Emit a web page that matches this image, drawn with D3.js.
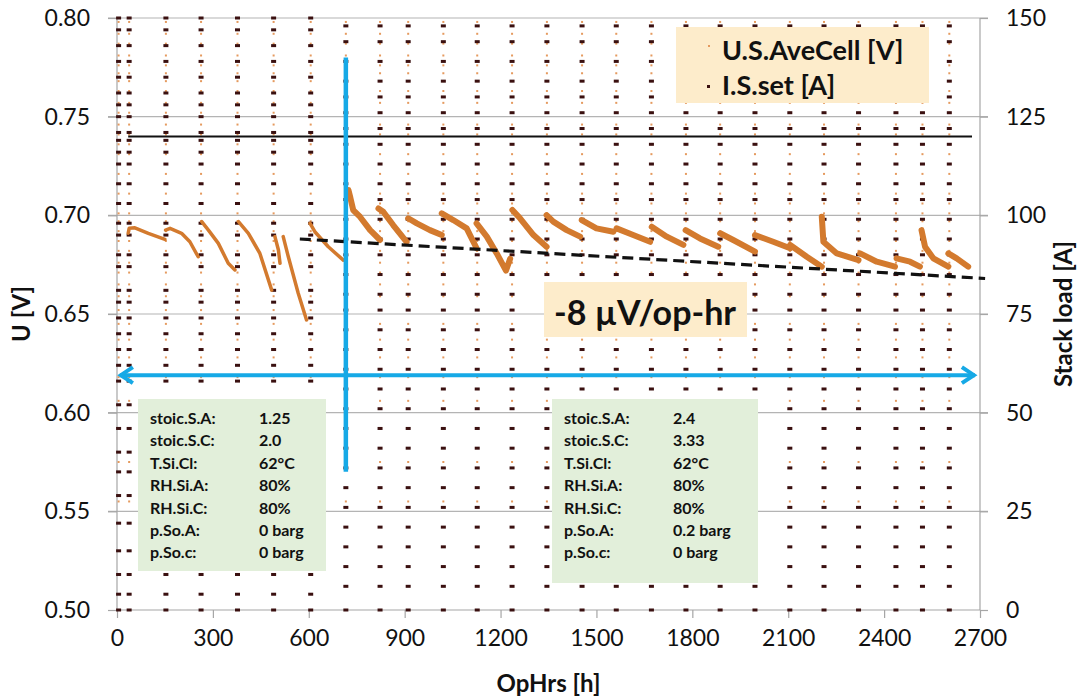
<!DOCTYPE html>
<html>
<head>
<meta charset="utf-8">
<script src="https://cdn.jsdelivr.net/npm/d3@7"></script>
<style>
  body { margin: 0; background: #fff; }
  svg text { font-family: Lato, 'Open Sans', sans-serif; fill: #111; }
</style>
</head>
<body>
<svg id="chart"></svg>
<script>
// ---- data ----
// OpHrs where a polarisation sweep was run
const sweepHours = [5, 38, 153, 263, 377, 490, 606, 716, 823, 911, 1021, 1127, 1236, 1345,
  1455, 1562, 1672, 1780, 1887, 1996, 2105, 2212, 2320, 2437, 2520, 2604];
// current steps (A) of a sweep, before / after the change of operating point
const polCurrentA = [150, 147, 143, 139, 135, 131, 128, 125, 121, 119, 116, 113, 108, 103, 98, 95,
  90, 87, 81, 78, 74, 70, 66, 62, 58, 52, 46, 40, 35, 29, 22, 15, 9, 4, 0];
const polCurrentB = [148, 144, 139, 134, 130, 126, 122, 118, 113, 108, 104, 99, 94, 90, 85,
  80, 76, 71, 66, 61, 56, 51, 46, 41, 36, 31, 26, 21, 16, 11, 6, 0];
// cell voltages (V) recorded during a sweep
const polVoltage = [0.798, 0.792, 0.787, 0.781, 0.776, 0.772, 0.768, 0.763, 0.757, 0.752, 0.746,
  0.741, 0.736, 0.731, 0.726, 0.721, 0.716, 0.711, 0.706, 0.701, 0.697, 0.692, 0.687, 0.682,
  0.676, 0.671, 0.665, 0.659, 0.652, 0.645, 0.637, 0.628, 0.618, 0.606, 0.592, 0.575, 0.555];
// U.S.AveCell at constant load, one list of [OpHrs, V] per run
const decaySegments = [
  [[35, 0.6909], [38, 0.6934], [56, 0.6937], [98, 0.6909], [150, 0.6878]],
  [[152, 0.6925], [166, 0.6934], [202, 0.6909], [228, 0.6866], [254, 0.679]],
  [[265, 0.6968], [286, 0.6925], [317, 0.6858], [348, 0.6757], [369, 0.6723]],
  [[380, 0.6968], [411, 0.6909], [447, 0.6807], [484, 0.6621]],
  [[494, 0.6892], [505, 0.6824], [510, 0.6757]],
  [[520, 0.6892], [536, 0.679], [567, 0.6605], [593, 0.647]],
  [[604, 0.6959], [619, 0.6917], [661, 0.6841], [708, 0.6773]],
  [[724, 0.7128], [730, 0.709], [739, 0.7027], [760, 0.6993], [792, 0.6925], [823, 0.6875]],
  [[818, 0.7035], [833, 0.7018], [864, 0.6951], [906, 0.6866]],
  [[911, 0.6985], [938, 0.6959], [979, 0.6925], [1016, 0.690]],
  [[1016, 0.701], [1052, 0.6976], [1094, 0.6934], [1125, 0.6833]],
  [[1125, 0.6959], [1157, 0.6892], [1188, 0.6807], [1217, 0.672], [1230, 0.678]],
  [[1237, 0.7027], [1261, 0.6985], [1303, 0.690], [1344, 0.6841]],
  [[1344, 0.7001], [1365, 0.6968], [1407, 0.6925], [1449, 0.6892]],
  [[1454, 0.6976], [1500, 0.6934], [1553, 0.6917]],
  [[1563, 0.6934], [1615, 0.690], [1668, 0.6866]],
  [[1673, 0.6942], [1720, 0.6892], [1772, 0.685]],
  [[1779, 0.6925], [1824, 0.6883], [1881, 0.6841]],
  [[1887, 0.6909], [1928, 0.6875], [1996, 0.6816]],
  [[1996, 0.690], [2053, 0.6866], [2106, 0.6833]],
  [[2106, 0.685], [2158, 0.679], [2205, 0.674]],
  [[2205, 0.6993], [2210, 0.6866], [2252, 0.6807], [2320, 0.6773]],
  [[2325, 0.6807], [2377, 0.6765], [2434, 0.674]],
  [[2439, 0.6782], [2481, 0.6765], [2512, 0.674]],
  [[2517, 0.6925], [2528, 0.6841], [2554, 0.6782], [2601, 0.674]],
  [[2601, 0.6807], [2627, 0.6782], [2663, 0.674]]
];
// I.S.set during the durability runs
const setCurrent = [[35, 120], [2675, 120]];
// annotations
const trendLine = [[572, 0.688], [2716, 0.668]];
const phaseDivider = [[716, 0.780], [716, 0.570]];
const phaseArrow = [[9, 0.619], [2684, 0.619]];
const dividerHour = 716;

const xTicks = [0, 300, 600, 900, 1200, 1500, 1800, 2100, 2400, 2700];
const uTicks = [0.50, 0.55, 0.60, 0.65, 0.70, 0.75, 0.80];
const iTicks = [0, 25, 50, 75, 100, 125, 150];
const legendItems = ['U.S.AveCell [V]', 'I.S.set [A]'];
const slopeLabel = '-8 \u00b5V/op-hr';
const condLabels = ['stoic.S.A:', 'stoic.S.C:', 'T.Si.Cl:', 'RH.Si.A:', 'RH.Si.C:', 'p.So.A:', 'p.So.c:'];
const condPhase1 = ['1.25', '2.0', '62\u00b0C', '80%', '80%', '0 barg', '0 barg'];
const condPhase2 = ['2.4', '3.33', '62\u00b0C', '80%', '80%', '0.2 barg', '0 barg'];

class DurabilityChart {
  constructor(_config) {
    this.config = {
      parentElement: _config.parentElement,
      containerWidth: 1083,
      containerHeight: 697,
      margin: { top: 18, bottom: 87, right: 103, left: 117 }
    };
    this.initVis();
  }

  initVis() {
    let vis = this;
    const m = vis.config.margin;
    vis.width = vis.config.containerWidth - m.left - m.right;
    vis.height = vis.config.containerHeight - m.top - m.bottom;

    vis.svg = d3.select(vis.config.parentElement)
      .attr('width', vis.config.containerWidth)
      .attr('height', vis.config.containerHeight);
    vis.svg.append('rect').attr('width', vis.config.containerWidth)
      .attr('height', vis.config.containerHeight).attr('fill', '#fff');

    vis.chart = vis.svg.append('g').attr('transform', `translate(${m.left},${m.top})`);

    vis.x = d3.scaleLinear().domain([0, 2700]).range([0, vis.width]);
    vis.yU = d3.scaleLinear().domain([0.5, 0.8]).range([vis.height, 0]);
    vis.yI = d3.scaleLinear().domain([0, 150]).range([vis.height, 0]);

    // gridlines
    vis.chart.append('g').selectAll('line').data(uTicks.slice(1)).join('line')
      .attr('x1', -9).attr('x2', vis.width + 8)
      .attr('y1', d => vis.yU(d)).attr('y2', d => vis.yU(d))
      .attr('stroke', '#b4b4b4').attr('stroke-width', 1.2);

    // axes
    const xAxis = vis.chart.append('g').attr('transform', `translate(0,${vis.height})`)
      .call(d3.axisBottom(vis.x).tickValues(xTicks).tickSize(8).tickPadding(12).tickFormat(d3.format('d')));
    const yAxisL = vis.chart.append('g')
      .call(d3.axisLeft(vis.yU).tickValues(uTicks).tickSize(9).tickPadding(18).tickFormat(d3.format('.2f')));
    const yAxisR = vis.chart.append('g').attr('transform', `translate(${vis.width},0)`)
      .call(d3.axisRight(vis.yI).tickValues(iTicks).tickSize(8).tickPadding(18).tickFormat(d3.format('d')));
    [xAxis, yAxisL, yAxisR].forEach(a => {
      a.select('.domain').attr('stroke', '#a6a6a6').attr('stroke-width', 1.2);
      a.selectAll('.tick line').attr('stroke', '#a6a6a6').attr('stroke-width', 1.2);
      a.selectAll('.tick text').attr('font-size', 23).attr('fill', '#111')
        .style('font-family', 'Lato, sans-serif');
    });
    xAxis.select('.domain').attr('d', `M0,0H${vis.width}`);
    yAxisL.select('.domain').attr('d', `M0,0V${vis.height}`);
    yAxisR.select('.domain').attr('d', `M0,0V${vis.height}`);

    // axis titles
    vis.svg.append('text').attr('transform', 'translate(30,314) rotate(-90)')
      .attr('text-anchor', 'middle').attr('font-size', 24).attr('font-weight', 'bold').text('U [V]');
    vis.svg.append('text').attr('transform', 'translate(1072,314) rotate(-90)')
      .attr('text-anchor', 'middle').attr('font-size', 24).attr('font-weight', 'bold').text('Stack load [A]');
    vis.svg.append('text').attr('x', m.left + vis.width / 2).attr('y', 692)
      .attr('text-anchor', 'middle').attr('font-size', 24).attr('font-weight', 'bold').text('OpHrs [h]');

    vis.renderVis();
  }

  renderVis() {
    let vis = this;
    const plot = vis.chart.append('g');

    // polarisation sweeps: voltage readings (orange) and current steps (dark)
    const uPts = [];
    const iPts = [];
    sweepHours.forEach(h => {
      polVoltage.forEach(v => uPts.push([h, v]));
      (h < dividerHour ? polCurrentA : polCurrentB).forEach(c => iPts.push([h, c]));
    });
    plot.append('g').selectAll('rect').data(uPts).join('rect')
      .attr('x', d => vis.x(d[0]) - 1).attr('y', d => vis.yU(d[1]) - 1)
      .attr('width', 2).attr('height', 2).attr('fill', '#e59a5e');
    plot.append('g').selectAll('rect').data(iPts).join('rect')
      .attr('x', d => vis.x(d[0]) - 2.5).attr('y', d => vis.yI(d[1]) - 1.5)
      .attr('width', 5).attr('height', 3).attr('fill', '#3a1010');

    // cell voltage at constant load
    const uLine = d3.line().x(d => vis.x(d[0])).y(d => vis.yU(d[1]));
    plot.append('g').selectAll('path').data(decaySegments).join('path')
      .attr('d', uLine).attr('fill', 'none').attr('stroke', '#d37a2e')
      .attr('stroke-width', d => d[0][0] < dividerHour ? 3.5 : 6)
      .attr('stroke-linejoin', 'round').attr('stroke-linecap', 'round');

    // set current
    const iLine = d3.line().x(d => vis.x(d[0])).y(d => vis.yI(d[1]));
    plot.append('path').datum(setCurrent).attr('d', iLine)
      .attr('fill', 'none').attr('stroke', '#111').attr('stroke-width', 2);

    // degradation trend
    plot.append('path').datum(trendLine).attr('d', uLine)
      .attr('fill', 'none').attr('stroke', '#111').attr('stroke-width', 3.2)
      .attr('stroke-dasharray', '11,6');

    // phase markers
    const blue = '#16a9e6';
    plot.append('path').datum(phaseDivider).attr('d', uLine)
      .attr('stroke', blue).attr('stroke-width', 4.5);
    plot.append('path').datum(phaseArrow).attr('d', uLine)
      .attr('stroke', blue).attr('stroke-width', 4);
    const ax0 = vis.x(phaseArrow[0][0]), ax1 = vis.x(phaseArrow[1][0]), ay = vis.yU(phaseArrow[0][1]);
    plot.append('path')
      .attr('d', `M${ax0 + 13},${ay - 8}L${ax0 + 1},${ay}L${ax0 + 13},${ay + 8}M${ax1 - 13},${ay - 8}L${ax1 - 1},${ay}L${ax1 - 13},${ay + 8}`)
      .attr('fill', 'none').attr('stroke', blue).attr('stroke-width', 4)
      .attr('stroke-linejoin', 'miter');

    // legend
    const lg = vis.svg.append('g');
    lg.append('rect').attr('x', 676).attr('y', 27).attr('width', 253).attr('height', 76).attr('fill', '#fdeccb');
    lg.selectAll('text').data(legendItems).join('text')
      .attr('x', 722).attr('y', (d, i) => 60 + i * 35)
      .attr('font-size', 27).attr('font-weight', 'bold').text(d => d);
    lg.append('rect').attr('x', 708).attr('y', 45).attr('width', 2).attr('height', 2).attr('fill', '#e59a5e');
    lg.append('rect').attr('x', 707).attr('y', 85).attr('width', 3).attr('height', 3).attr('fill', '#3a1010');

    // slope label
    vis.svg.append('rect').attr('x', 544).attr('y', 282).attr('width', 203).attr('height', 55).attr('fill', '#fdeccb');
    vis.svg.append('text').attr('x', 645).attr('y', 325).attr('text-anchor', 'middle')
      .attr('font-size', 34).attr('font-weight', 'bold').text(slopeLabel);

    // operating conditions
    const boxes = [
      { x: 138, w: 188, h: 172, vx: 259, values: condPhase1 },
      { x: 552, w: 206, h: 184, vx: 673, values: condPhase2 }
    ];
    boxes.forEach(b => {
      const g = vis.svg.append('g');
      g.append('rect').attr('x', b.x).attr('y', 399).attr('width', b.w).attr('height', b.h).attr('fill', '#e2efda');
      g.selectAll('.lab').data(condLabels).join('text').attr('class', 'lab')
        .attr('x', b.x + 12).attr('y', (d, i) => 424 + i * 22.4)
        .attr('font-size', 16).attr('font-weight', 'bold').text(d => d);
      g.selectAll('.val').data(b.values).join('text').attr('class', 'val')
        .attr('x', b.vx).attr('y', (d, i) => 424 + i * 22.4)
        .attr('font-size', 16).attr('font-weight', 'bold').text(d => d);
    });
  }
}

new DurabilityChart({ parentElement: '#chart' });
</script>
</body>
</html>
